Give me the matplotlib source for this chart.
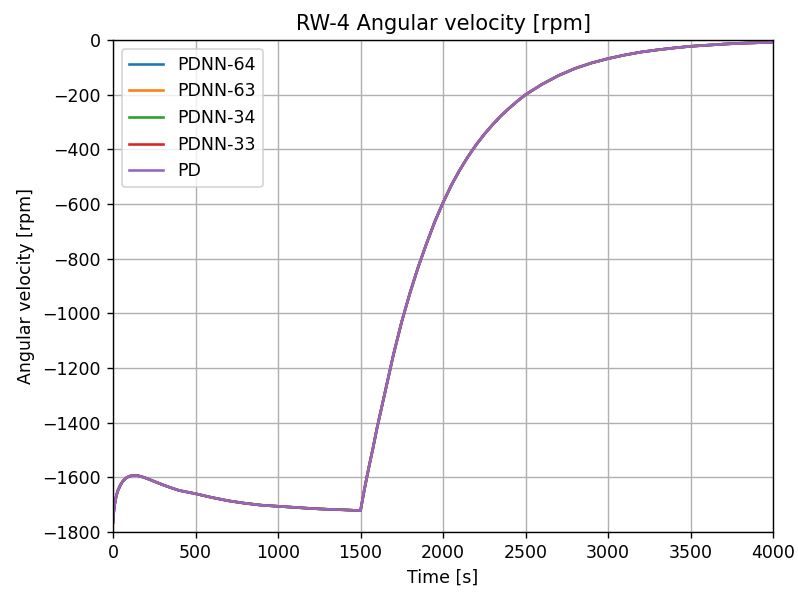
import numpy as np
import matplotlib
matplotlib.use('Agg')
import matplotlib.pyplot as plt

# time [s] and wheel speed [rpm]
time_s = [0, 5, 10, 20, 30, 45, 60, 80, 100, 125, 150, 175, 200, 250, 300, 350,
          400, 500, 600, 700, 800, 900, 1000, 1100, 1200, 1300, 1400, 1500,
          1525, 1550, 1575, 1600, 1650, 1700, 1750, 1800, 1850, 1900, 1950,
          2000, 2050, 2100, 2150, 2200, 2250, 2300, 2350, 2400, 2450, 2500,
          2600, 2700, 2800, 2900, 3000,
          3100, 3200, 3300, 3400, 3500, 3600, 3700, 3800, 3900, 4000]
rpm = [-1765, -1725, -1700, -1668, -1648, -1628, -1614, -1602, -1596, -1593,
       -1594, -1598, -1603, -1615, -1627, -1638, -1648, -1660, -1674, -1686,
       -1695, -1702, -1706, -1710, -1714, -1717, -1719, -1722,
       -1640, -1565, -1495, -1420, -1285, -1150, -1030, -925, -830, -745, -665,
       -595, -532, -477, -428, -384, -345, -310, -278, -250, -224, -200,
       -162, -130, -104, -84, -68,
       -55, -44, -36, -29, -23, -19, -15, -12, -10, -8]

labels = ['PDNN-64', 'PDNN-63', 'PDNN-34', 'PDNN-33', 'PD']
# all controllers overlap on this wheel
series = {lab: rpm for lab in labels}

dpi = 125
fig = plt.figure(figsize=(798 / dpi, 592 / dpi), dpi=dpi)
ax = fig.add_axes([0.1416, 0.1014, 0.8271, 0.831])
for lab in labels:
    ax.plot(time_s, series[lab], label=lab)

ax.set_xlim(0, 4000)
ax.set_ylim(-1800, 0)
ax.set_xlabel('Time [s]')
ax.set_ylabel('Angular velocity [rpm]')
ax.set_title('RW-4 Angular velocity [rpm]')
ax.grid(True)
ax.legend(loc='upper left')

fig.savefig('out.png', dpi=dpi)
